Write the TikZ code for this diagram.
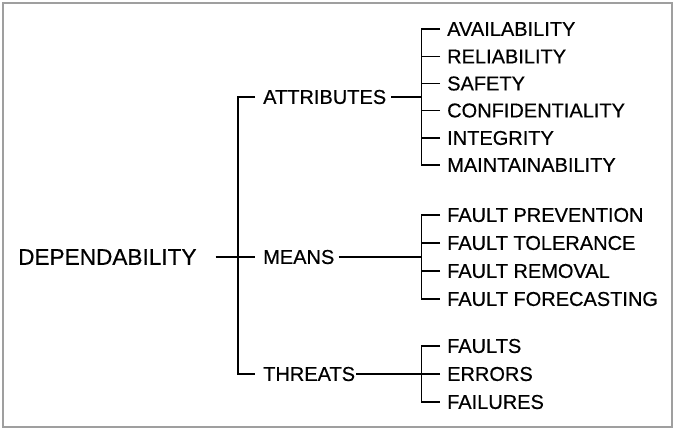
\documentclass[tikz,border=0pt]{standalone}
\usepackage{fontspec}
\setmainfont{Liberation Sans}
\newfontfamily\labelfont{Liberation Sans}[FakeBold=0.5]
\begin{document}
\begin{tikzpicture}[x=1pt,y=-1pt,
  lbl/.style={anchor=west,inner sep=0pt,font=\labelfont\fontsize{20}{24}\selectfont},
  rootlbl/.style={anchor=west,inner sep=0pt,font=\labelfont\fontsize{22.6}{27}\selectfont},
  link/.style={line width=1.6pt,black},
  frame/.style={line width=1.6pt,gray!75}]
  \useasboundingbox (0,0) rectangle (678,431);
  \draw[frame] (3,3) rectangle (672,427);

  % root and its three branches
  \node[rootlbl] (dep) at (18,257) {DEPENDABILITY};
  \node[lbl] (att) at (263,97) {ATTRIBUTES};
  \node[lbl] (mea) at (263,257) {MEANS};
  \node[lbl] (thr) at (263,374) {THREATS};

  % leaves of each branch
  \node[lbl] (av) at (447,29) {AVAILABILITY};
  \node[lbl] (re) at (447,56.5) {RELIABILITY};
  \node[lbl] (sa) at (447,83.5) {SAFETY};
  \node[lbl] (co) at (447,110.5) {CONFIDENTIALITY};
  \node[lbl] (in) at (447,138) {INTEGRITY};
  \node[lbl] (ma) at (447,165) {MAINTAINABILITY};

  \node[lbl] (fp) at (447,215) {FAULT PREVENTION};
  \node[lbl] (ft) at (447,243) {FAULT TOLERANCE};
  \node[lbl] (fr) at (447,271) {FAULT REMOVAL};
  \node[lbl] (ff) at (447,299) {FAULT FORECASTING};

  \node[lbl] (fa) at (447,346) {FAULTS};
  \node[lbl] (er) at (447,374) {ERRORS};
  \node[lbl] (fl) at (447,402) {FAILURES};

  % bracket columns
  \coordinate (mainbr) at (238,0);
  \coordinate (subbr) at (421.5,0);

  % root bracket
  \draw[link] ([xshift=19pt]dep.east) -- ([xshift=-8pt]mea.west);
  \draw[link] ([xshift=-8pt]att.west) -- (att.west -| mainbr) -- (thr.west -| mainbr) -- ([xshift=-8pt]thr.west);

  % attributes bracket
  \draw[link] ([xshift=5pt]att.east) -- (att.east -| subbr);
  \draw[link] ([xshift=-7pt]av.west) -- (av.west -| subbr) -- (ma.west -| subbr) -- ([xshift=-7pt]ma.west);
  \foreach \n in {re,sa,co,in}
    \draw[link] ([xshift=-7pt]\n.west) -- (\n.west -| subbr);

  % means bracket
  \draw[link] ([xshift=4pt]mea.east) -- (mea.east -| subbr);
  \draw[link] ([xshift=-7pt]fp.west) -- (fp.west -| subbr) -- (ff.west -| subbr) -- ([xshift=-7pt]ff.west);
  \foreach \n in {ft,fr}
    \draw[link] ([xshift=-7pt]\n.west) -- (\n.west -| subbr);

  % threats bracket
  \draw[link] ([xshift=1pt]thr.east) -- (thr.east -| subbr);
  \draw[link] ([xshift=-7pt]fa.west) -- (fa.west -| subbr) -- (fl.west -| subbr) -- ([xshift=-7pt]fl.west);
  \draw[link] ([xshift=-7pt]er.west) -- (er.west -| subbr);
\end{tikzpicture}
\end{document}
